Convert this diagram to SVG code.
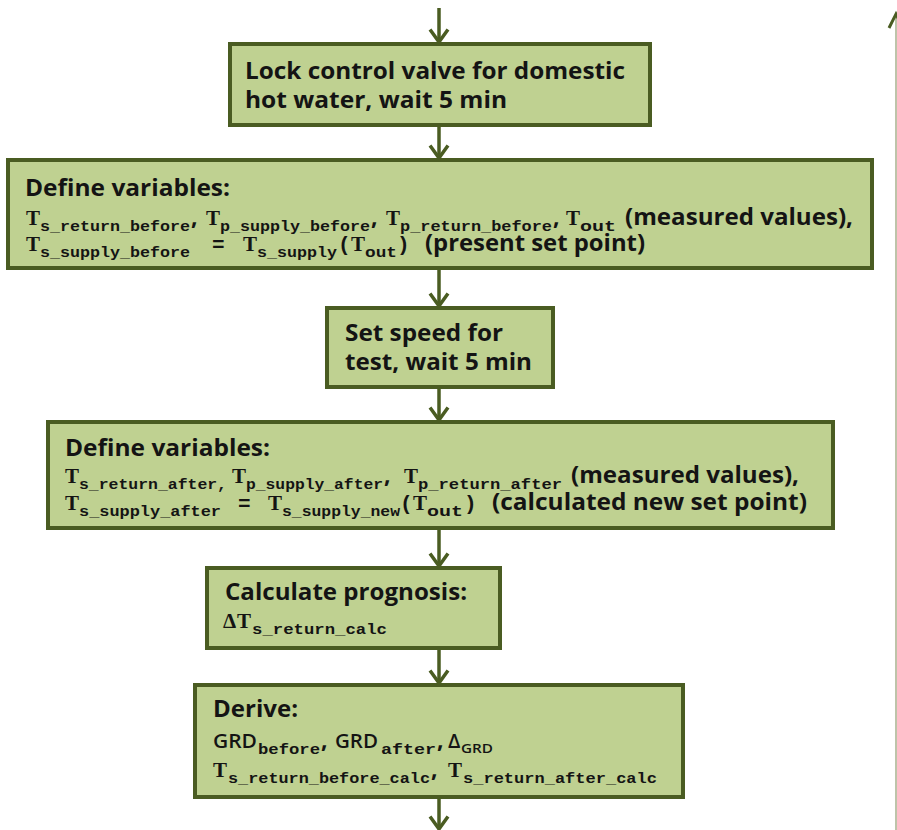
<svg xmlns="http://www.w3.org/2000/svg" width="897" height="830" viewBox="0 0 897 830">
  <style>
    .box { fill: #bfd191; stroke: #4a5c22; stroke-width: 4; }
    .conn line { stroke: #4a5c22; stroke-width: 3.5; }
    .h { font-family: "Open Sans", "Liberation Sans", sans-serif; font-weight: 700; font-size: 23px; fill: #141414; }
    .big { font-size: 24px; }
    .g { font-family: "Open Sans", "Liberation Sans", sans-serif; font-weight: 600; font-size: 20px; fill: #141414; }
    .gs { font-family: "Open Sans", "Liberation Sans", sans-serif; font-weight: 600; font-size: 12px; fill: #141414; }
    .v { font-family: "Liberation Serif", serif; font-weight: 700; font-size: 21px; fill: #141414; }
    .t { font-family: "Liberation Mono", monospace; font-weight: 700; font-size: 21px; fill: #141414; }
    .s { font-family: "Liberation Mono", monospace; font-weight: 700; font-size: 15px; fill: #141414; }
  </style>
  <defs>
    <marker id="chev" viewBox="0 0 16 22" markerWidth="16" markerHeight="22" refX="14" refY="11" orient="auto" markerUnits="userSpaceOnUse">
      <path d="M1.5 2 L14 11 L1.5 20" fill="none" stroke="#4a5c22" stroke-width="3.5"/>
    </marker>
  </defs>
  <rect width="897" height="830" fill="#ffffff"/>

  <!-- feedback line on the right edge -->
  <g id="return-line">
    <line x1="896" y1="15" x2="896" y2="830" stroke="#a7b08c" stroke-width="1.5"/>
    <path d="M889 28 L896 14 L903 28" fill="none" stroke="#4a5c22" stroke-width="3"/>
  </g>

  <g id="connectors" class="conn">
    <line x1="439" y1="8" x2="439" y2="42" marker-end="url(#chev)"/>
    <line x1="439" y1="127" x2="439" y2="158" marker-end="url(#chev)"/>
    <line x1="439" y1="270" x2="439" y2="306" marker-end="url(#chev)"/>
    <line x1="439" y1="389" x2="439" y2="420" marker-end="url(#chev)"/>
    <line x1="439" y1="530" x2="439" y2="566" marker-end="url(#chev)"/>
    <line x1="439" y1="650" x2="439" y2="683" marker-end="url(#chev)"/>
    <line x1="439" y1="799" x2="439" y2="829" marker-end="url(#chev)"/>
  </g>

  <g id="lock-valve">
    <rect class="box" x="230" y="44" width="420" height="81"/>
    <text class="h big" x="245" y="79" textLength="380" lengthAdjust="spacingAndGlyphs">Lock control valve for domestic</text>
    <text class="h big" x="245" y="108" textLength="262" lengthAdjust="spacingAndGlyphs">hot water, wait 5 min</text>
  </g>

  <g id="define-before">
    <rect class="box" x="8" y="160" width="864" height="108"/>
    <text class="h" x="25" y="196" textLength="205" lengthAdjust="spacingAndGlyphs">Define variables:</text>
    <!-- measured values before the test -->
    <text class="v" x="26" y="225">T</text>
    <text class="s" x="40" y="231" textLength="150" lengthAdjust="spacingAndGlyphs">s_return_before</text>
    <text class="h" x="191" y="225">,</text>
    <text class="v" x="206" y="225">T</text>
    <text class="s" x="220" y="231" textLength="150" lengthAdjust="spacingAndGlyphs">p_supply_before</text>
    <text class="h" x="371" y="225">,</text>
    <text class="v" x="386" y="225">T</text>
    <text class="s" x="400" y="231" textLength="152" lengthAdjust="spacingAndGlyphs">p_return_before</text>
    <text class="h" x="553" y="225">,</text>
    <text class="v" x="566" y="225">T</text>
    <text class="s" x="580" y="231" textLength="36" lengthAdjust="spacingAndGlyphs">out</text>
    <text class="h" x="625" y="225" textLength="228" lengthAdjust="spacingAndGlyphs">(measured values),</text>
    <!-- present set point -->
    <text class="v" x="26" y="251">T</text>
    <text class="s" x="40" y="257" textLength="150" lengthAdjust="spacingAndGlyphs">s_supply_before</text>
    <text class="t" x="212" y="251">=</text>
    <text class="v" x="243" y="251">T</text>
    <text class="s" x="257" y="257" textLength="80" lengthAdjust="spacingAndGlyphs">s_supply</text>
    <text class="t" x="338" y="251">(</text>
    <text class="v" x="351" y="251">T</text>
    <text class="s" x="365" y="257" textLength="32" lengthAdjust="spacingAndGlyphs">out</text>
    <text class="t" x="397" y="251">)</text>
    <text class="h" x="425" y="251" textLength="220" lengthAdjust="spacingAndGlyphs">(present set point)</text>
  </g>

  <g id="set-speed">
    <rect class="box" x="327" y="308" width="226" height="79"/>
    <text class="h big" x="345" y="341" textLength="158" lengthAdjust="spacingAndGlyphs">Set speed for</text>
    <text class="h big" x="345" y="370" textLength="187" lengthAdjust="spacingAndGlyphs">test, wait 5 min</text>
  </g>

  <g id="define-after">
    <rect class="box" x="48" y="422" width="785" height="106"/>
    <text class="h" x="65" y="456" textLength="205" lengthAdjust="spacingAndGlyphs">Define variables:</text>
    <!-- measured values after the test -->
    <text class="v" x="65" y="483">T</text>
    <text class="s" x="79" y="489" textLength="148" lengthAdjust="spacingAndGlyphs">s_return_after,</text>
    <text class="v" x="232" y="483">T</text>
    <text class="s" x="246" y="489" textLength="137" lengthAdjust="spacingAndGlyphs">p_supply_after</text>
    <text class="h" x="384" y="483">,</text>
    <text class="v" x="404" y="483">T</text>
    <text class="s" x="418" y="489" textLength="144" lengthAdjust="spacingAndGlyphs">p_return_after</text>
    <text class="h" x="571" y="483" textLength="228" lengthAdjust="spacingAndGlyphs">(measured values),</text>
    <!-- new set point -->
    <text class="v" x="65" y="510">T</text>
    <text class="s" x="79" y="516" textLength="142" lengthAdjust="spacingAndGlyphs">s_supply_after</text>
    <text class="t" x="238" y="510">=</text>
    <text class="v" x="268" y="510">T</text>
    <text class="s" x="282" y="516" textLength="118" lengthAdjust="spacingAndGlyphs">s_supply_new</text>
    <text class="t" x="400" y="510">(</text>
    <text class="v" x="413" y="510">T</text>
    <text class="s" x="427" y="516" textLength="36" lengthAdjust="spacingAndGlyphs">out</text>
    <text class="t" x="464" y="510">)</text>
    <text class="h" x="492" y="510" textLength="315" lengthAdjust="spacingAndGlyphs">(calculated new set point)</text>
  </g>

  <g id="prognosis">
    <rect class="box" x="207" y="568" width="293" height="80"/>
    <text class="h" x="225" y="600" textLength="242" lengthAdjust="spacingAndGlyphs">Calculate prognosis:</text>
    <text class="v" x="223" y="628">Δ</text>
    <text class="v" x="237" y="628">T</text>
    <text class="s" x="252" y="634" textLength="135" lengthAdjust="spacingAndGlyphs">s_return_calc</text>
  </g>

  <g id="derive">
    <rect class="box" x="195" y="685" width="488" height="112"/>
    <text class="h" x="213" y="717" textLength="85" lengthAdjust="spacingAndGlyphs">Derive:</text>
    <text class="g" x="213" y="748" textLength="44" lengthAdjust="spacingAndGlyphs">GRD</text>
    <text class="s" x="258" y="754" textLength="62" lengthAdjust="spacingAndGlyphs">before</text>
    <text class="h" x="321" y="748">,</text>
    <text class="g" x="335" y="748" textLength="43" lengthAdjust="spacingAndGlyphs">GRD</text>
    <text class="s" x="381" y="754" textLength="55" lengthAdjust="spacingAndGlyphs">after</text>
    <text class="h" x="437" y="748">,</text>
    <text class="g" x="448" y="748">Δ</text>
    <text class="gs" x="461" y="753" textLength="32" lengthAdjust="spacingAndGlyphs">GRD</text>
    <text class="v" x="213" y="777">T</text>
    <text class="s" x="228" y="783" textLength="202" lengthAdjust="spacingAndGlyphs">s_return_before_calc</text>
    <text class="h" x="431" y="777">,</text>
    <text class="v" x="448" y="777">T</text>
    <text class="s" x="463" y="783" textLength="194" lengthAdjust="spacingAndGlyphs">s_return_after_calc</text>
  </g>
</svg>
